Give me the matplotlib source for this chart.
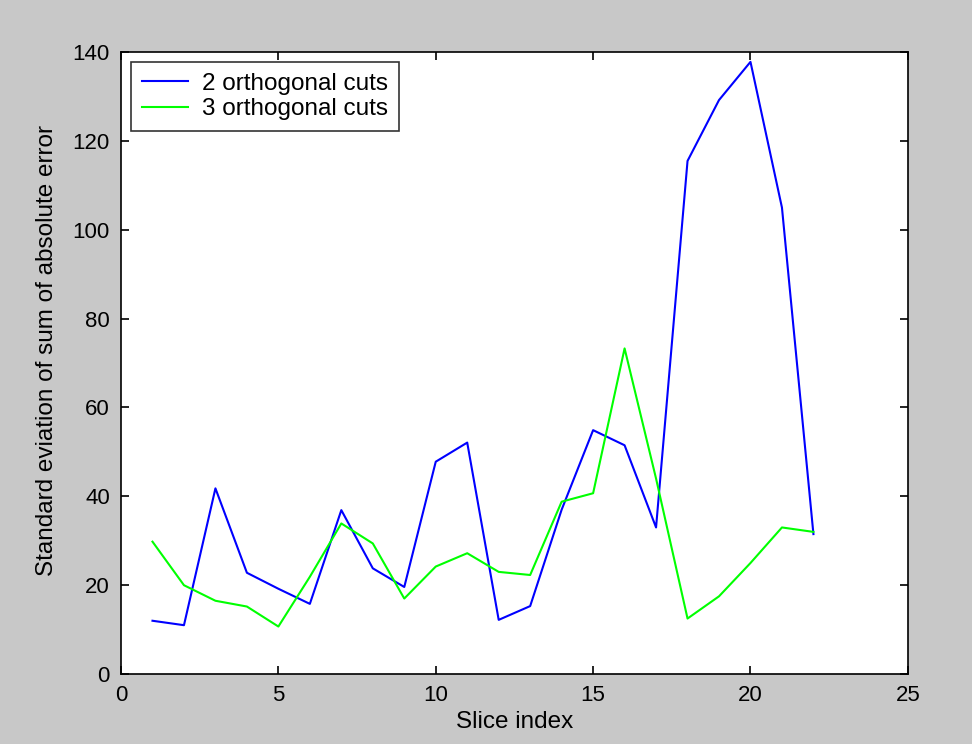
import numpy as np
import matplotlib.pyplot as plt

plt.rcParams['font.family'] = ['Liberation Sans', 'DejaVu Sans']

# Data:
slices = np.arange(1, 23)
two_cuts = [12.0, 11.0, 41.8, 22.8, 19.2, 15.8, 36.9, 23.8, 19.6, 47.8, 52.1,
            12.2, 15.3, 37.0, 54.9, 51.5, 33.0, 115.5, 129.2, 137.8, 105.0, 31.5]
three_cuts = [29.8, 20.0, 16.5, 15.2, 10.7, 21.9, 33.9, 29.4, 17.0, 24.2, 27.2,
              23.0, 22.3, 38.8, 40.7, 73.3, 44.0, 12.5, 17.5, 25.0, 33.0, 32.0]
labels = ["2 orthogonal cuts", "3 orthogonal cuts"]

fig = plt.figure(figsize=(9.72, 7.44), dpi=100, facecolor='#c8c8c8')
ax = fig.add_axes([0.1245, 0.094, 0.8095, 0.836])
ax.set_facecolor('white')

ax.plot(slices, two_cuts, color='#0000ff', lw=1.5, label=labels[0])
ax.plot(slices, three_cuts, color='#00ff00', lw=1.5, label=labels[1])

ax.set_xlim(0, 25)
ax.set_ylim(0, 140)
ax.set_xticks(np.arange(0, 26, 5))
ax.set_yticks(np.arange(0, 141, 20))
ax.tick_params(direction='in', top=True, right=True, labelsize=16, length=6, width=1.2, pad=8)
for s in ax.spines.values():
    s.set_linewidth(1.2)

ax.set_xlabel("Slice index", fontsize=17.5)
ax.set_ylabel("Standard eviation of sum of absolute error", fontsize=17.5)
ax.xaxis.set_label_coords(0.5, -0.06)
ax.yaxis.set_label_coords(-0.08, 0.52)

leg = ax.legend(loc='upper left', fontsize=17.5, frameon=True, fancybox=False,
                edgecolor='black', handlelength=1.9, handletextpad=0.6,
                borderaxespad=0.4, labelspacing=0.15, borderpad=0.45)
leg.get_frame().set_linewidth(1.2)

fig.savefig('out.png', dpi=100, facecolor=fig.get_facecolor())
